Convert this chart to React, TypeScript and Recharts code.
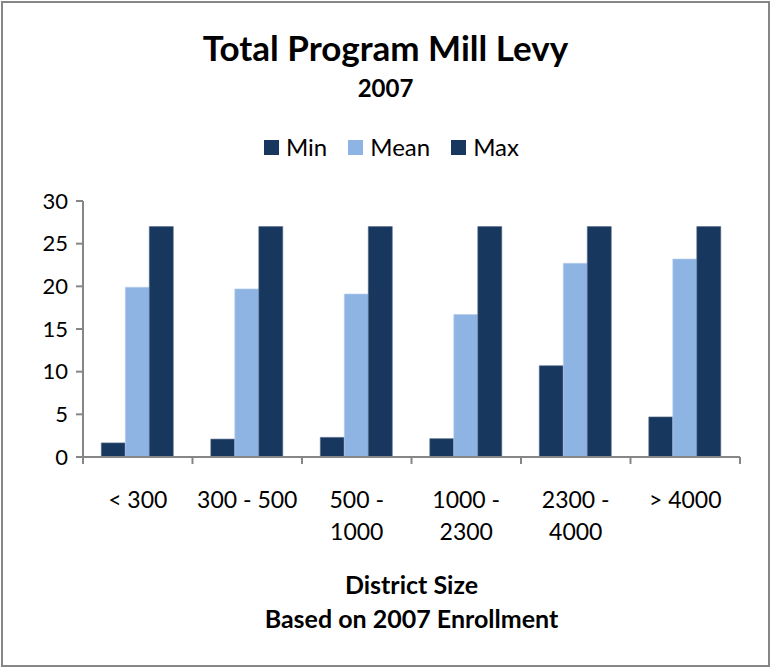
import React from 'react'
import { BarChart, Bar, XAxis, YAxis } from 'recharts'

const categories = ['< 300', '300 - 500', '500 - 1000', '1000 - 2300', '2300 - 4000', '> 4000']
const minValues = [1.65, 2.1, 2.3, 2.15, 10.7, 4.7]
const meanValues = [19.9, 19.7, 19.1, 16.7, 22.7, 23.2]
const maxValues = [27, 27, 27, 27, 27, 27]
const yTicks = [0, 5, 10, 15, 20, 25, 30]

const DARK = '#17375E'
const LIGHT = '#8EB4E3'
const AXIS = '#868686'
const FONT = 'Lato, "Open Sans", sans-serif'

const chartData = categories.map((name, i) => ({
  name,
  Min: minValues[i],
  Mean: meanValues[i],
  Max: maxValues[i]
}))

const legendItems = [
  { label: 'Min', color: DARK },
  { label: 'Mean', color: LIGHT },
  { label: 'Max', color: DARK }
]

// wrap long labels after the dash, like Excel does
const splitLabel = (label: string) => {
  if (label.length > 9 && label.includes(' - ')) {
    const [a, b] = label.split(' - ')
    return [a + ' -', b]
  }
  return [label]
}

const CategoryTick = (props: any) => {
  const { x, y, payload, index } = props
  const half = payload && payload.offset ? payload.offset : 54.75
  const lines = splitLabel(String(payload.value))
  return (
    <g>
      <line x1={x - half} y1={y - 8} x2={x - half} y2={y - 1} stroke={AXIS} strokeWidth={2} />
      {index === categories.length - 1 && (
        <line x1={x + half} y1={y - 8} x2={x + half} y2={y - 1} stroke={AXIS} strokeWidth={2} />
      )}
      {lines.map((t, i) => (
        <text key={i} x={x} y={y + 43 + i * 32} textAnchor="middle" fontSize={23} fill="#000" fontFamily={FONT}>
          {t}
        </text>
      ))}
    </g>
  )
}

export default function App() {
  return (
    <div style={{ position: 'fixed', left: 0, top: 0, width: 771, height: 667, background: '#fff', fontFamily: FONT }}>
      <div style={{ position: 'absolute', left: 1, top: 1, width: 765, height: 662, border: `2px solid ${AXIS}` }} />
      <div style={{ position: 'absolute', left: 0, width: 771, top: 26, textAlign: 'center', fontSize: 35, fontWeight: 700, lineHeight: '42px' }}>
        Total Program Mill Levy
      </div>
      <div style={{ position: 'absolute', left: 0, width: 771, top: 73, textAlign: 'center', fontSize: 24, fontWeight: 700, lineHeight: '30px' }}>
        2007
      </div>
      <div style={{ position: 'absolute', left: 6, width: 771, top: 132, display: 'flex', justifyContent: 'center', fontSize: 24, lineHeight: '30px' }}>
        {legendItems.map((it, i) => (
          <div key={i} style={{ display: 'flex', alignItems: 'center', marginRight: i < 2 ? 21 : 0 }}>
            <span style={{ display: 'inline-block', width: 15, height: 15, background: it.color, marginRight: 7 }} />
            <span>{it.label}</span>
          </div>
        ))}
      </div>
      <div style={{ position: 'absolute', left: 83, width: 657, top: 567, textAlign: 'center', fontSize: 25, fontWeight: 700, lineHeight: '34px' }}>
        District Size
        <br />
        Based on 2007 Enrollment
      </div>
      <div style={{ position: 'absolute', left: 0, top: 0 }}>
        <BarChart
          width={771}
          height={667}
          data={chartData}
          margin={{ top: 201, right: 31, bottom: 130, left: 0 }}
          barCategoryGap="16.7%"
          barGap={0}
        >
          <XAxis
            dataKey="name"
            height={80}
            interval={0}
            axisLine={{ stroke: AXIS, strokeWidth: 2 }}
            tickLine={false}
            tick={<CategoryTick />}
          />
          <YAxis
            width={83}
            domain={[0, 30]}
            ticks={yTicks}
            interval={0}
            axisLine={{ stroke: AXIS, strokeWidth: 2 }}
            tickLine={{ stroke: AXIS, strokeWidth: 2 }}
            tickSize={7}
            tick={{ fill: '#000', fontSize: 22, fontFamily: FONT, dx: -6 }}
          />
          <Bar dataKey="Min" fill={DARK} stroke="#5a6f8c" strokeWidth={0.6} isAnimationActive={false} />
          <Bar dataKey="Mean" fill={LIGHT} stroke="#b9cff0" strokeWidth={0.6} isAnimationActive={false} />
          <Bar dataKey="Max" fill={DARK} stroke="#5a6f8c" strokeWidth={0.6} isAnimationActive={false} />
        </BarChart>
      </div>
    </div>
  )
}
